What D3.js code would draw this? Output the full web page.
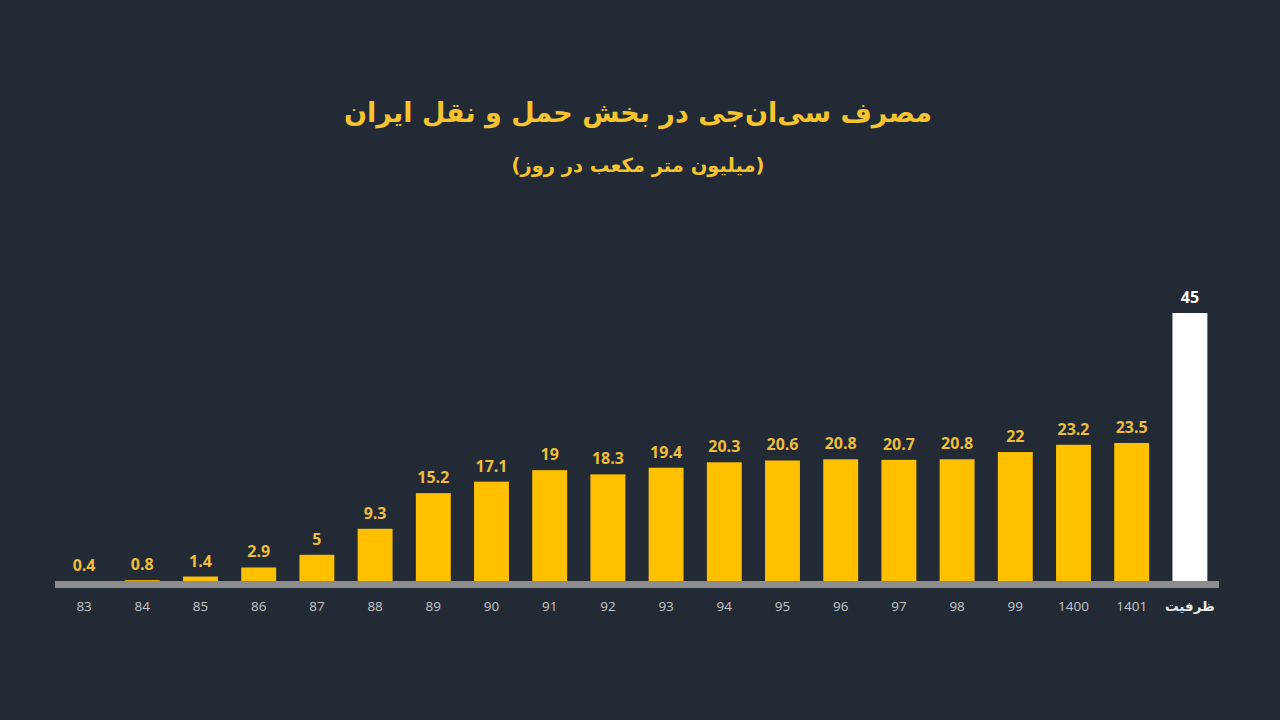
<!DOCTYPE html>
<html>
<head>
<meta charset="utf-8">
<script src="https://cdn.jsdelivr.net/npm/d3@7"></script>
<style>
  html, body { margin: 0; padding: 0; background: #222a35; }
  svg { display: block; }
</style>
</head>
<body>
<div id="chart"></div>
<script>
const years = ['83','84','85','86','87','88','89','90','91','92','93','94','95','96','97','98','99','1400','1401','ظرفیت']
const values = [0.4,0.8,1.4,2.9,5,9.3,15.2,17.1,19,18.3,19.4,20.3,20.6,20.8,20.7,20.8,22,23.2,23.5,45]
const titleText = 'مصرف سی‌ان‌جی در بخش حمل و نقل ایران'
const subtitleText = '(میلیون متر مکعب در روز)'

const width = 1280, height = 720
const data = years.map((y, i) => ({year: y, value: values[i], capacity: i === years.length - 1}))

const svg = d3.select('#chart').append('svg')
.attr('width', width)
.attr('height', height)

svg.append('rect')
.attr('width', width)
.attr('height', height)
.attr('fill', '#222a35')

let x = d3.scaleBand()
.domain(years)
.range([55, 1219])
.paddingInner(0.4)
.paddingOuter(0.2)

// bars start a little below the top of the grey band, so tiny values hide under it
let y = d3.scaleLinear()
.domain([0, 45])
.range([585, 313])

const bandTop = 581

// titles
svg.append('text')
.attr('x', 638)
.attr('y', 122)
.attr('text-anchor', 'middle')
.attr('direction', 'rtl')
.style('font-family', '"DejaVu Sans", sans-serif')
.style('font-weight', 'bold')
.style('font-size', '27px')
.style('fill', '#f7c32e')
.text(titleText)

svg.append('text')
.attr('x', 638)
.attr('y', 172)
.attr('text-anchor', 'middle')
.attr('direction', 'rtl')
.style('font-family', '"DejaVu Sans", sans-serif')
.style('font-weight', 'bold')
.style('font-size', '19.5px')
.style('fill', '#f7c32e')
.text(subtitleText)

// bars
svg.append('g')
.selectAll('rect')
.data(data)
.enter()
.append('rect')
.attr('x', d => x(d.year))
.attr('y', d => y(d.value))
.attr('width', x.bandwidth())
.attr('height', d => y(0) - y(d.value))
.style('fill', d => d.capacity ? '#ffffff' : '#ffc000')

// baseline band
svg.append('rect')
.attr('x', 55)
.attr('y', bandTop)
.attr('width', 1219 - 55)
.attr('height', 7)
.style('fill', '#8c8c8c')

// value labels
svg.append('g')
.selectAll('text')
.data(data)
.enter()
.append('text')
.attr('x', d => x(d.year) + x.bandwidth() / 2)
.attr('y', d => Math.min(y(d.value), bandTop) - 10)
.attr('text-anchor', 'middle')
.style('font-family', '"Open Sans", sans-serif')
.style('font-weight', 'bold')
.style('font-size', '16px')
.style('fill', d => d.capacity ? '#ffffff' : '#eebd3a')
.text(d => d.value)

// x axis
const xAxis = svg.append('g')
.attr('transform', 'translate(0,' + (bandTop + 7) + ')')
.call(d3.axisBottom(x).tickSize(0).tickPadding(13))

xAxis.select('.domain').remove()

xAxis.selectAll('.tick text')
.style('font-family', '"Open Sans", sans-serif')
.style('font-size', '13.5px')
.style('fill', '#c4c6c9')

xAxis.selectAll('.tick text')
.filter(d => d === 'ظرفیت')
.style('font-family', '"DejaVu Sans", sans-serif')
.style('font-weight', 'bold')
.style('fill', '#e6e6e6')
</script>
</body>
</html>
